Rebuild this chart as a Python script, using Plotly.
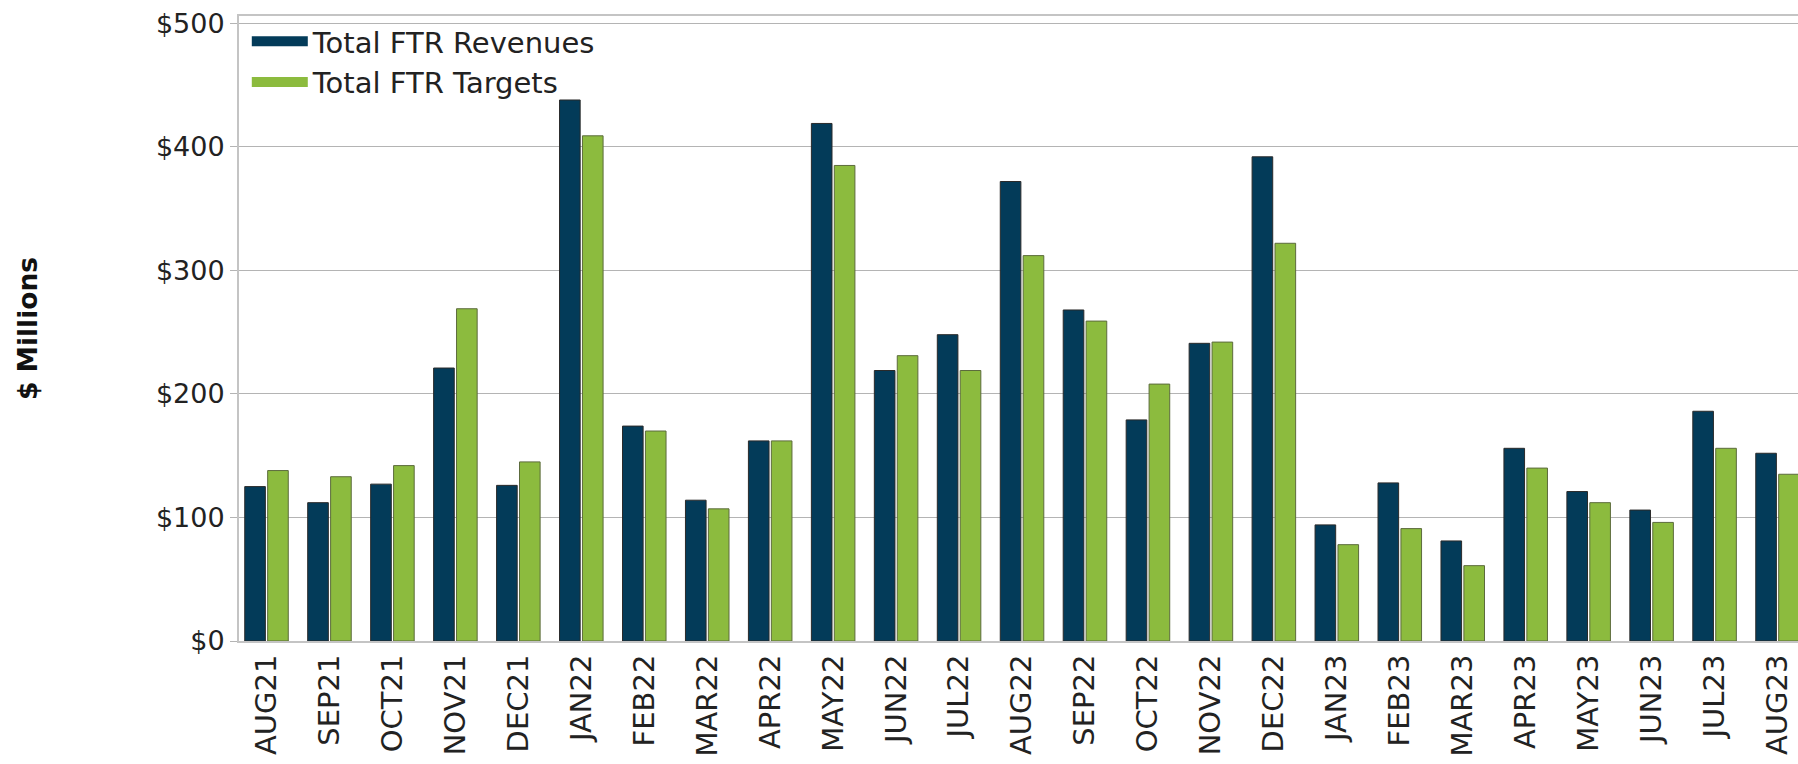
import plotly.graph_objects as go

months = ["AUG21", "SEP21", "OCT21", "NOV21", "DEC21", "JAN22", "FEB22", "MAR22",
          "APR22", "MAY22", "JUN22", "JUL22", "AUG22", "SEP22", "OCT22", "NOV22",
          "DEC22", "JAN23", "FEB23", "MAR23", "APR23", "MAY23", "JUN23", "JUL23", "AUG23"]
revenues = [125, 112, 127, 221, 126, 438, 174, 114, 162, 419, 219, 248, 372, 268,
            179, 241, 392, 94, 128, 81, 156, 121, 106, 186, 152]
targets = [138, 133, 142, 269, 145, 409, 170, 107, 162, 385, 231, 219, 312, 259,
           208, 242, 322, 78, 91, 61, 140, 112, 96, 156, 135]
y_ticks = [0, 100, 200, 300, 400, 500]
y_tick_text = ["$0", "$100", "$200", "$300", "$400", "$500"]

dark = "#033B59"
green = "#8CBB3E"

fig = go.Figure()
fig.add_trace(go.Bar(x=months, y=revenues, name="Total FTR Revenues", showlegend=False,
                     marker=dict(color=dark, line=dict(color="#2a2a2a", width=1))))
fig.add_trace(go.Bar(x=months, y=targets, name="Total FTR Targets", showlegend=False,
                     marker=dict(color=green, line=dict(color="#5c6b3c", width=1))))
# legend entries with wide swatches
fig.add_trace(go.Scatter(x=[None], y=[None], mode="lines", name="Total FTR Revenues",
                         line=dict(color=dark, width=16)))
fig.add_trace(go.Scatter(x=[None], y=[None], mode="lines", name="Total FTR Targets",
                         line=dict(color=green, width=16)))

font_family = "DejaVu Sans"
fig.update_layout(
    width=1798, height=764,
    margin=dict(l=239, r=0, t=16, b=123),
    paper_bgcolor="white", plot_bgcolor="white",
    barmode="group", bargap=0.272, bargroupgap=0.1,
    font=dict(family=font_family, color="#222222", size=27),
    legend=dict(x=0.005, y=1.0, xanchor="left", yanchor="top",
                font=dict(size=29, color="#222222"), bgcolor="rgba(0,0,0,0)",
                tracegroupgap=0, itemwidth=56),
    showlegend=True,
)
fig.update_xaxes(
    type="category", range=[-0.437, 24.325],
    tickangle=-90, tickfont=dict(size=29, color="#222222"),
    showline=True, mirror=True, linecolor="#c4c4c4", linewidth=2,
    showgrid=False, ticks="",
)
fig.update_yaxes(
    range=[0, 506], tickvals=y_ticks, ticktext=y_tick_text,
    tickfont=dict(size=27, color="#222222"), ticklabeloverflow="allow",
    showgrid=True, gridcolor="#b4b4b4", gridwidth=1,
    showline=True, linecolor="#c4c4c4", linewidth=2,
    ticks="outside", ticklen=7, tickcolor="#b4b4b4",
    zeroline=False,
    title=dict(text="<b>$ Millions</b>", font=dict(size=26.5, family="DejaVu Sans", color="#111111"),
               standoff=111),
    automargin=False,
)

fig.write_html("out.html",
               config={"displayModeBar": False},
               post_script="document.body.style.margin='0px';document.body.style.overflow='hidden';")
